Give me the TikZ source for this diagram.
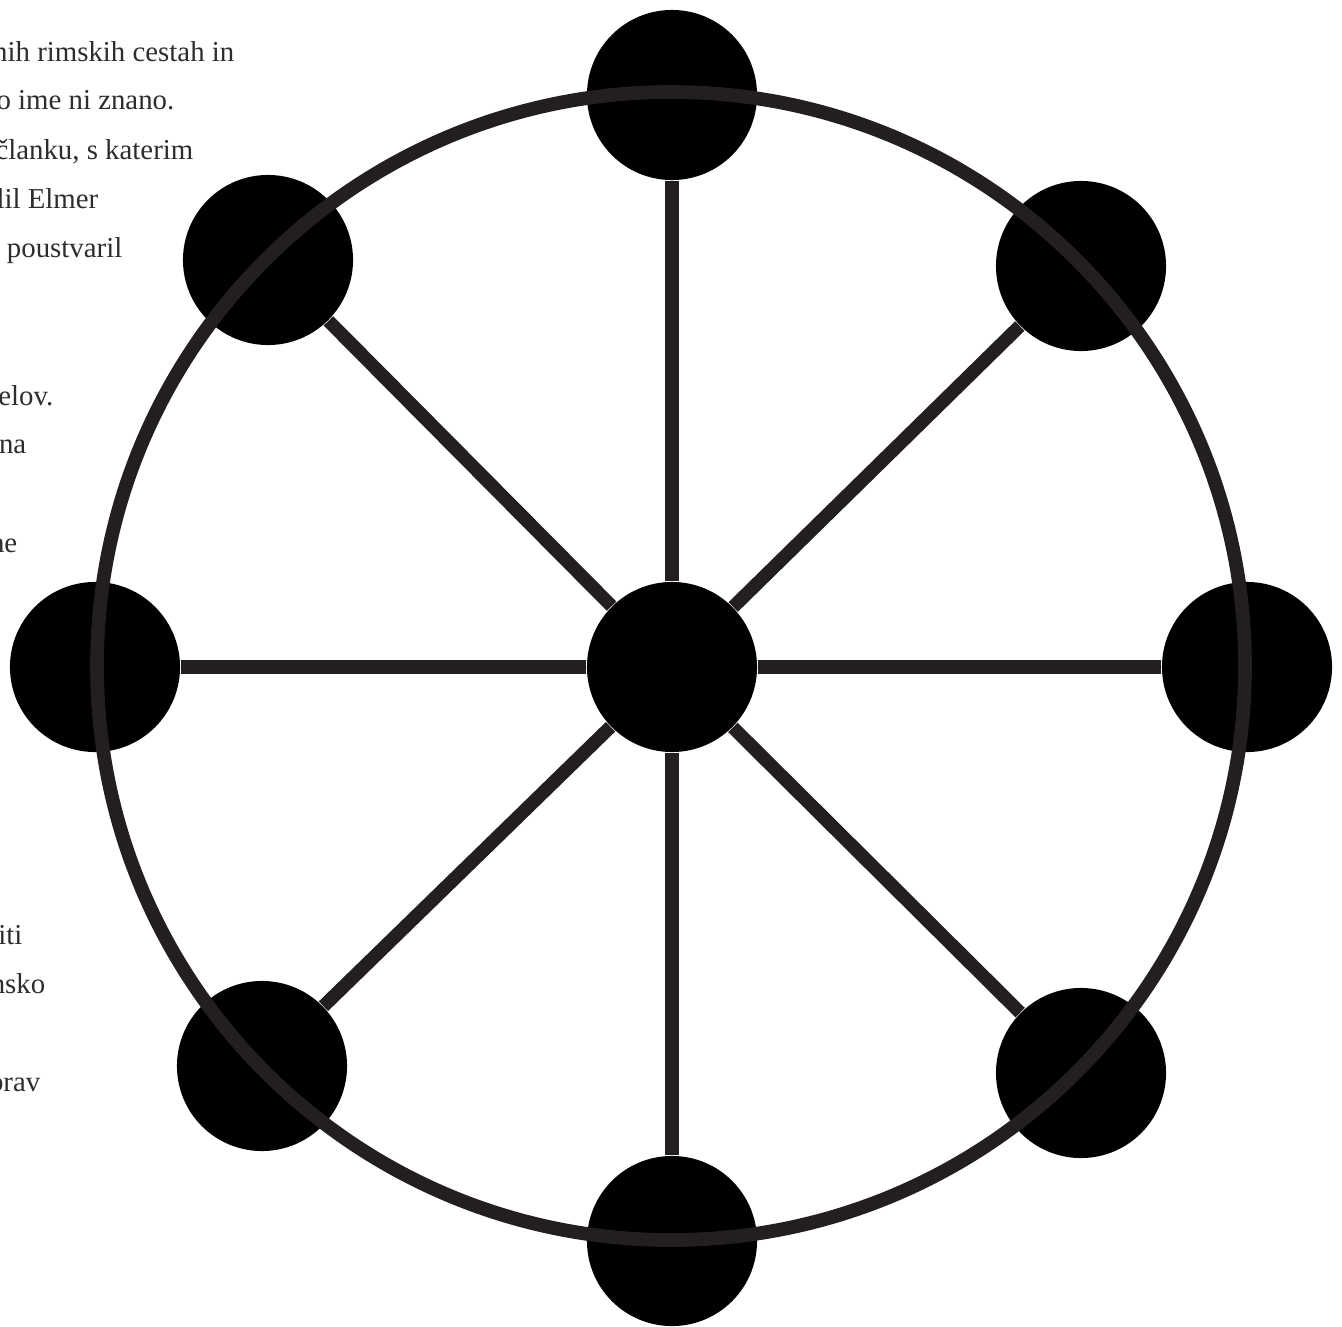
\documentclass[tikz,border=0pt]{standalone}
\usepackage{fontspec}
\setmainfont{Liberation Serif}
\usepackage{tikz}
\usetikzlibrary{positioning}
\definecolor{wheelInk}{RGB}{35,31,32}
\definecolor{pageText}{RGB}{45,45,45}
\tikzset{
  hub/.style={circle, fill=black, draw=none, inner sep=0pt, minimum size=1.7cm},
  spoke/.style={line width=3.8pt, draw=wheelInk},
  rim/.style={line width=3.9pt, draw=wheelInk},
  pagetxt/.style={anchor=base east, inner sep=0pt, text=pageText,
                  font=\fontsize{8.2pt}{9pt}\selectfont}
}
\begin{document}
\begin{tikzpicture}[x=0.01cm, y=-0.01cm]
\useasboundingbox (0,0) rectangle (1342,1327);
\clip (0,0) rectangle (1342,1327);
% text of the page behind the figure
\foreach \k/\xr/\y/\s in {1/235/61/{nih rimskih cestah in}, 2/175/110/{o ime ni znano.},
    3/194/159/{članku, s katerim}, 4/99/208/{lil Elmer}, 5/123/257/{poustvaril},
    6/54/405/{elov.}, 7/27/453/{na}, 8/18/552/{ne}, 9/23/944/{iti}, 10/46/993/{nsko},
    11/41/1091/{prav}}
  \node[pagetxt] (line\k) at (\xr,\y) {\s};
% wheel
\node[hub] (c) at (672,667) {};
\foreach \nm/\x/\y in {n/672/95, ne/1081/266, e/1247/667, se/1081/1073,
    s/672/1241, sw/262/1066, w/95/667, nw/268/260}
  \node[hub] (\nm) at (\x,\y) {};
\foreach \nm in {n,ne,e,se,s,sw,w,nw}
  \draw[spoke] (c) -- (\nm);
\draw[rim] (671,666) circle[radius=574];
\end{tikzpicture}
\end{document}
